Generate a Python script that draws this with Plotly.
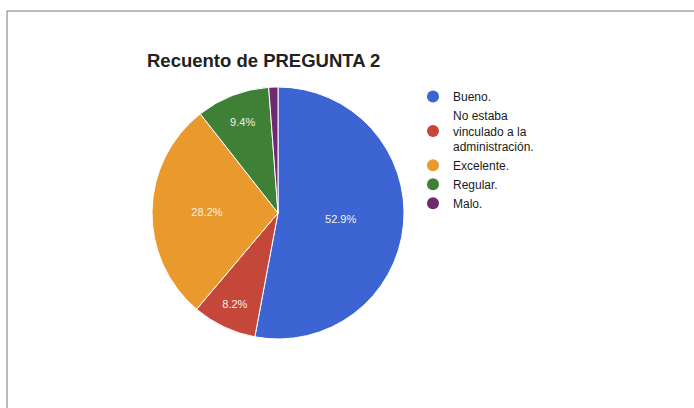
import plotly.graph_objects as go

categories = ["Bueno.", "No estaba<br>vinculado a la<br>administración.", "Excelente.", "Regular.", "Malo."]
counts = [45, 7, 24, 8, 1]
colors = ["#3c64d2", "#c4473a", "#ea9a2c", "#3e8036", "#6e2a6e"]
label_templates = ["%{percent:.1%}", "%{percent:.1%}", "%{percent:.1%}", "%{percent:.1%}", ""]
title_text = "Recuento de PREGUNTA 2"

W, H = 694, 408
fig = go.Figure()


def px(x):
    return x / W


def py(y):
    return 1 - y / H


cx, cy, r = 278, 213, 126
fig.add_trace(go.Pie(
    labels=categories, values=counts, sort=False, direction="clockwise", rotation=0,
    marker=dict(colors=colors, line=dict(color="white", width=1)),
    texttemplate=label_templates, textposition="inside",
    insidetextorientation="horizontal",
    textfont=dict(family="Liberation Sans, Arial", size=11, color="#f4f0e8"),
    showlegend=False,
    domain=dict(x=[px(cx - r), px(cx + r)], y=[py(cy + r), py(cy - r)]),
    hoverinfo="label+percent",
))

for name, col in zip(categories, colors):
    fig.add_trace(go.Scatter(
        x=[None], y=[None], mode="markers", name=name,
        marker=dict(symbol="circle", size=12, color=col),
        showlegend=True,
    ))

fig.update_layout(
    width=W, height=H,
    margin=dict(l=0, r=0, t=0, b=0),
    paper_bgcolor="white", plot_bgcolor="white",
    xaxis=dict(visible=False), yaxis=dict(visible=False),
    title=dict(text="<b>" + title_text + "</b>", x=px(147), xanchor="left",
               y=py(61), yanchor="middle",
               font=dict(family="Liberation Sans, Arial", size=18.5, color="#222222")),
    legend=dict(x=px(413), xanchor="left", y=py(82), yanchor="top",
                font=dict(family="Liberation Sans, Arial", size=12, color="#1a1a1a"),
                bgcolor="rgba(0,0,0,0)", itemsizing="constant", tracegroupgap=0,
                itemwidth=30),
    shapes=[
        dict(type="line", xref="paper", yref="paper", x0=px(7), x1=1, y0=py(11), y1=py(11),
             line=dict(color="#777777", width=1)),
        dict(type="line", xref="paper", yref="paper", x0=px(7), x1=px(7), y0=0, y1=py(11),
             line=dict(color="#777777", width=1)),
    ],
)

fig.write_html("out.html", config={"displayModeBar": False},
               post_script="document.body.style.margin='0';document.body.style.padding='0';")
